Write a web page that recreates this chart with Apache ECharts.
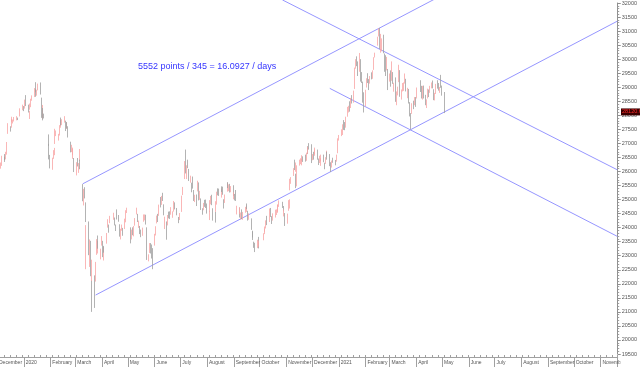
<!DOCTYPE html>
<html>
<head>
<meta charset="utf-8">
<script src="https://cdn.jsdelivr.net/npm/echarts@6/dist/echarts.min.js"></script>
<style>html,body{margin:0;padding:0;background:#fff;overflow:hidden;width:640px;height:367px;position:relative;}#c{position:absolute;left:-4px;top:0;width:644px;height:367px;}</style>
</head>
<body>
<div id="c"></div>
<script>
// ---- DATA: daily bars [date, open, close, low, high] ----
const bars2019 = [
['2019-12-02',26380,26440,26300,26500],['2019-12-03',26420,26390,26250,26470],['2019-12-04',26200,26060,25990,26260],
['2019-12-05',26180,26220,26100,26320],['2019-12-06',26280,26500,26200,26560],['2019-12-09',26520,26490,26410,26620],
['2019-12-10',26470,26440,26340,26520],['2019-12-11',26480,26650,26430,26700],['2019-12-12',26640,26990,26600,27050],
['2019-12-13',27360,27690,27340,27720],['2019-12-16',27550,27510,27420,27610],['2019-12-17',27570,27840,27560,27880],
['2019-12-18',27810,27880,27770,27950],['2019-12-19',27790,27800,27710,27850],['2019-12-20',27860,27870,27780,27940],
['2019-12-23',27890,27910,27820,27970],['2019-12-24',27890,27860,27830,27920],['2019-12-27',27980,28230,27960,28250],
['2019-12-30',28230,28320,28180,28380],['2019-12-31',28300,28190,28150,28330]
];
const bars2020 = [
['2020-01-02',28270,28540,28240,28560],['2020-01-03',28560,28450,28330,28720],['2020-01-06',28320,28230,28100,28380],
['2020-01-07',28250,28320,28200,28420],['2020-01-08',28000,28090,27870,28160],['2020-01-09',28310,28560,28290,28590],
['2020-01-10',28620,28640,28520,28710],['2020-01-13',28660,28950,28650,28970],['2020-01-14',28970,28890,28820,29180],
['2020-01-15',28840,28770,28660,28930],['2020-01-16',28810,28880,28700,28910],['2020-01-17',28950,29060,28890,29130],
['2020-01-20',29020,28800,28740,29170],['2020-01-21',28600,27990,27910,28630],['2020-01-22',27950,28340,27870,28370],
['2020-01-23',28180,27910,27820,28260],['2020-01-24',28000,27950,27890,28060],['2020-01-29',27200,27160,26910,27320],
['2020-01-30',26880,26450,26430,26980],['2020-01-31',26450,26310,26110,26590],
['2020-02-03',26220,26360,26060,26490],['2020-02-04',26550,26680,26450,26760],['2020-02-05',26690,26790,26580,26840],
['2020-02-06',27000,27490,26980,27520],['2020-02-07',27370,27400,27260,27460],['2020-02-10',27230,27240,27100,27340],
['2020-02-11',27290,27580,27280,27650],['2020-02-12',27620,27820,27560,27840],['2020-02-13',27840,27730,27640,27920],
['2020-02-14',27800,27820,27650,27860],['2020-02-17',27840,27960,27740,27970],['2020-02-18',27800,27530,27440,27810],
['2020-02-19',27600,27660,27520,27750],['2020-02-20',27730,27610,27530,27760],['2020-02-21',27560,27310,27210,27610],
['2020-02-24',27000,26820,26680,27060],['2020-02-25',26820,26890,26690,26950],['2020-02-26',26710,26780,26580,26850],
['2020-02-27',26520,26780,26450,26810],['2020-02-28',26420,26130,25980,26480],
['2020-03-02',25880,26290,25860,26330],['2020-03-03',26370,26280,26180,26480],['2020-03-04',26020,26220,25950,26300],
['2020-03-05',26400,26770,26380,26800],['2020-03-06',26370,26150,26080,26420],['2020-03-09',25540,25040,24940,25550],
['2020-03-10',24960,25230,24790,25380],['2020-03-11',25390,25230,25040,25440],['2020-03-12',24880,24310,24200,24900],
['2020-03-13',23200,24030,22520,24090],['2020-03-16',24200,23060,23020,24220],['2020-03-17',22830,23260,22600,23580],
['2020-03-18',23450,22290,22270,23530],['2020-03-19',21780,21710,21000,22120],['2020-03-20',22230,22810,22100,22860],
['2020-03-23',22190,21700,21140,22300],['2020-03-24',22260,22660,22080,22780],['2020-03-25',23190,23530,23030,23590],
['2020-03-26',23340,23350,23080,23530],['2020-03-27',23580,23480,23250,23720],['2020-03-30',23000,23180,22870,23250],
['2020-03-31',23370,23600,23360,23700],
['2020-04-01',23430,23090,22950,23530],['2020-04-02',22990,23280,22830,23310],['2020-04-03',23250,23240,23110,23350],
['2020-04-06',23460,23750,23430,23810],['2020-04-07',24040,24250,24000,24300],['2020-04-08',24020,23970,23820,24110],
['2020-04-09',24270,24300,24160,24420],['2020-04-14',24400,24440,24280,24530],['2020-04-15',24310,24150,24080,24360],
['2020-04-16',24020,24010,23880,24110],['2020-04-17',24510,24380,24290,24650],['2020-04-20',24380,24330,24210,24450],
['2020-04-21',24060,23790,23680,24120],['2020-04-22',23640,23890,23580,23960],['2020-04-23',23960,23980,23890,24110],
['2020-04-24',23950,23830,23710,23990],['2020-04-27',23970,24280,23950,24320],['2020-04-28',24300,24580,24190,24620],
['2020-04-29',24580,24640,24520,24710],
['2020-05-04',23870,23610,23440,24010],['2020-05-05',23670,23870,23580,23930],['2020-05-06',23880,23870,23730,24010],
['2020-05-07',23800,23980,23690,24060],['2020-05-08',24100,24230,24070,24340],['2020-05-11',24560,24600,24470,24710],
['2020-05-12',24420,24250,24200,24490],['2020-05-13',24040,24180,23990,24250],['2020-05-14',23970,23830,23770,24060],
['2020-05-15',23890,23800,23660,23930],['2020-05-18',23850,23930,23710,24000],['2020-05-19',24220,24390,24210,24470],
['2020-05-20',24300,24400,24260,24470],['2020-05-21',24330,24280,24110,24460],['2020-05-22',23940,22930,22850,24010],
['2020-05-25',22920,22950,22800,23050],['2020-05-26',23170,23380,23100,23450],['2020-05-27',23400,23300,23080,23450],
['2020-05-28',23310,23130,22900,23400],['2020-05-29',23180,22960,22520,23270],
['2020-06-01',23370,23730,23360,23780],['2020-06-02',23890,24000,23720,24050],['2020-06-03',24240,24330,24150,24430],
['2020-06-04',24400,24370,24200,24490],['2020-06-05',24430,24770,24420,24820],['2020-06-08',24940,24780,24720,25090],
['2020-06-09',24880,25060,24810,25130],['2020-06-10',25220,25050,24950,25240],['2020-06-11',24800,24480,24440,24830],
['2020-06-12',23990,24300,23950,24390],['2020-06-15',24150,23780,23570,24220],['2020-06-16',24170,24340,24080,24450],
['2020-06-17',24550,24480,24330,24570],['2020-06-18',24460,24460,24310,24580],['2020-06-19',24480,24640,24460,24730],
['2020-06-22',24480,24510,24350,24580],['2020-06-23',24630,24910,24570,24950],['2020-06-24',24850,24780,24650,24900],
['2020-06-26',24630,24550,24440,24700],['2020-06-29',24340,24300,24160,24380],['2020-06-30',24390,24430,24270,24520],
['2020-07-02',24580,25120,24560,25140],['2020-07-03',25260,25370,25160,25450],['2020-07-06',25740,26340,25730,26370],
['2020-07-07',26390,26000,25930,26780],['2020-07-08',25800,26130,25730,26220],['2020-07-09',26340,26210,26120,26420],
['2020-07-10',26050,25730,25660,26090],['2020-07-13',25750,25770,25600,25850],['2020-07-14',25490,25480,25260,25600],
['2020-07-15',25620,25480,25390,25820],['2020-07-16',25310,24970,24950,25340],['2020-07-17',25050,25090,24910,25170],
['2020-07-20',25080,25060,24770,25180],['2020-07-21',25300,25640,25290,25670],['2020-07-22',25560,25060,24970,25610],
['2020-07-23',25100,25260,24990,25310],['2020-07-24',25000,24710,24630,25040],['2020-07-27',24650,24600,24460,24690],
['2020-07-28',24730,24770,24620,24880],['2020-07-29',24900,24880,24740,24990],['2020-07-30',24960,24710,24700,25000],
['2020-07-31',24770,24600,24500,24860],
['2020-08-03',24380,24460,24270,24600],['2020-08-04',24570,24950,24560,24980],['2020-08-05',25010,25100,24830,25130],
['2020-08-06',25130,24930,24800,25170],['2020-08-07',24670,24530,24250,24690],['2020-08-10',24470,24380,24180,24560],
['2020-08-11',24590,24890,24560,24940],['2020-08-12',24860,25240,24820,25280],['2020-08-13',25350,25230,25150,25400],
['2020-08-14',25360,25180,25130,25390],['2020-08-17',25150,25350,25070,25390],['2020-08-18',25410,25370,25270,25470],
['2020-08-19',25410,25180,25170,25460],['2020-08-20',24980,24790,24680,25010],['2020-08-21',24950,25110,24880,25180],
['2020-08-24',25290,25550,25280,25600],['2020-08-25',25590,25490,25410,25620],['2020-08-26',25450,25490,25300,25540],
['2020-08-27',25540,25280,25250,25560],['2020-08-28',25400,25420,25260,25480],['2020-08-31',25450,25180,25130,25510],
['2020-09-01',25150,25180,25010,25260],['2020-09-02',25120,25120,24970,25200],['2020-09-03',25240,25010,24950,25340],
['2020-09-04',24580,24700,24470,24780],['2020-09-07',24690,24590,24360,24720],['2020-09-08',24570,24620,24480,24720],
['2020-09-09',24300,24470,24290,24540],['2020-09-10',24640,24310,24300,24650],['2020-09-11',24300,24500,24280,24560],
['2020-09-14',24620,24640,24530,24740],['2020-09-15',24630,24730,24560,24790],['2020-09-16',24800,24730,24660,24860],
['2020-09-17',24580,24340,24250,24600],['2020-09-18',24420,24460,24280,24510],['2020-09-21',24310,23950,23920,24330],
['2020-09-22',23750,23720,23560,23860],['2020-09-23',23820,23740,23650,23890],['2020-09-24',23460,23310,23280,23500],
['2020-09-25',23440,23240,23130,23460],['2020-09-28',23360,23480,23270,23570],['2020-09-29',23610,23280,23260,23670],
['2020-09-30',23380,23460,23320,23530],
['2020-10-05',23620,23770,23550,23800],['2020-10-06',23920,23980,23850,24040],['2020-10-07',23850,23880,23770,23960],
['2020-10-08',24070,24240,23970,24260],['2020-10-09',24290,24120,24090,24420],['2020-10-12',24240,24650,24200,24680],
['2020-10-14',24620,24440,24380,24700],['2020-10-15',24360,24160,24130,24410],['2020-10-16',24300,24390,24250,24510],
['2020-10-19',24520,24540,24360,24640],['2020-10-20',24490,24570,24450,24650],['2020-10-21',24650,24750,24570,24810],
['2020-10-22',24610,24790,24530,24830],['2020-10-23',24850,24920,24740,24970],['2020-10-27',24830,24790,24700,24920],
['2020-10-28',24750,24710,24580,24770],['2020-10-29',24460,24590,24400,24650],['2020-10-30',24480,24110,24060,24520],
['2020-11-02',24200,24460,24140,24500],['2020-11-03',24650,24940,24600,24980],['2020-11-04',24770,24890,24680,25010],
['2020-11-05',25350,25700,25330,25740],['2020-11-06',25650,25710,25560,25800],['2020-11-09',25890,26020,25840,26120],
['2020-11-10',26350,26300,26050,26420],['2020-11-11',26200,26230,25990,26320],['2020-11-12',25760,25520,25410,25920],
['2020-11-13',25500,26160,25470,26220],['2020-11-16',26300,26380,26210,26420],['2020-11-17',26420,26420,26260,26470],
['2020-11-18',26510,26540,26360,26580],['2020-11-19',26350,26360,26220,26450],['2020-11-20',26460,26450,26340,26540],
['2020-11-23',26550,26490,26350,26600],['2020-11-24',26560,26590,26380,26670],['2020-11-25',26850,26670,26620,26900],
['2020-11-26',26710,26820,26630,26880],['2020-11-27',26930,26890,26780,27010],['2020-11-30',26900,26340,26300,26970],
['2020-12-01',26520,26570,26400,26620],['2020-12-02',26640,26530,26420,26700],['2020-12-03',26640,26730,26560,26780],
['2020-12-04',26730,26840,26610,26850],['2020-12-07',26740,26510,26420,26780],['2020-12-08',26390,26300,26230,26460],
['2020-12-09',26380,26500,26300,26560],['2020-12-10',26330,26410,26200,26470],['2020-12-11',26500,26510,26360,26600],
['2020-12-14',26550,26390,26330,26600],['2020-12-15',26230,26210,26080,26310],['2020-12-16',26320,26460,26270,26510],
['2020-12-17',26570,26680,26510,26740],['2020-12-18',26640,26500,26420,26700],['2020-12-21',26560,26310,26190,26620],
['2020-12-22',26150,26120,25980,26330],['2020-12-23',26260,26340,26140,26390],['2020-12-24',26480,26390,26310,26490],
['2020-12-28',26370,26310,26220,26410],['2020-12-29',26380,26570,26350,26600],['2020-12-30',26660,27150,26650,27180],
['2020-12-31',27230,27230,27100,27300]
];
const bars2021 = [
['2021-01-04',27320,27470,27260,27500],['2021-01-05',27400,27650,27300,27680],['2021-01-06',27790,27690,27480,27830],
['2021-01-07',27740,27550,27470,27760],['2021-01-08',27700,27880,27560,27950],['2021-01-11',28000,28250,27950,28300],
['2021-01-12',28260,28280,28100,28340],['2021-01-13',28380,28240,28130,28500],['2021-01-14',28370,28500,28260,28620],
['2021-01-15',28600,28570,28420,28720],['2021-01-18',28510,28860,28450,28880],['2021-01-19',28950,29640,28940,29700],
['2021-01-20',29790,29960,29660,30000],['2021-01-21',30000,29930,29750,30100],['2021-01-22',29860,29450,29400,29920],
['2021-01-25',29600,30160,29550,30220],['2021-01-26',29980,29390,29200,30000],['2021-01-27',29450,29300,29150,29540],
['2021-01-28',29100,28550,28450,29200],['2021-01-29',28680,28280,28100,28820],
['2021-02-01',28450,28890,28320,28910],['2021-02-02',29070,29250,28990,29320],['2021-02-03',29380,29310,29150,29500],
['2021-02-04',29200,29110,28900,29290],['2021-02-05',29250,29290,29130,29400],['2021-02-08',29440,29320,29280,29530],
['2021-02-09',29450,29480,29300,29600],['2021-02-10',29640,30040,29620,30070],['2021-02-11',30170,30170,30060,30230],
['2021-02-15',30490,30750,30480,30800],['2021-02-16',30830,31080,30810,31100],['2021-02-17',30950,30600,30360,31110],
['2021-02-18',30330,30600,30230,30900],['2021-02-19',30520,30640,30280,30740],['2021-02-22',30700,30320,30210,30870],
['2021-02-23',30190,29700,29550,30200],['2021-02-24',29950,29720,29400,30140],['2021-02-25',29630,30070,29600,30080],
['2021-02-26',29640,28980,28900,29650],
['2021-03-01',29300,29450,29200,29490],['2021-03-02',29460,29100,29020,29600],['2021-03-03',29260,29880,29230,29920],
['2021-03-04',29450,29240,29120,29540],['2021-03-05',28950,29100,28840,29160],['2021-03-08',29200,28540,28480,29350],
['2021-03-09',28460,28770,28360,28850],['2021-03-10',28760,28910,28710,29020],['2021-03-11',29200,29720,29180,29800],
['2021-03-12',29590,28740,28660,29610],['2021-03-15',28710,28830,28560,28920],['2021-03-16',28990,29030,28850,29150],
['2021-03-17',29020,29030,28870,29170],['2021-03-18',29160,29410,29130,29490],['2021-03-19',29200,28990,28850,29300],
['2021-03-22',28700,28890,28610,28980],['2021-03-23',28910,28500,28420,28940],['2021-03-24',28430,28020,27960,28470],
['2021-03-25',27940,27900,27500,28080],['2021-03-26',28100,28340,28050,28430],['2021-03-29',28450,28340,28220,28520],
['2021-03-30',28520,28580,28360,28650],['2021-03-31',28580,28380,28300,28650],
['2021-04-01',28630,28940,28600,28990],['2021-04-06',29150,28940,28830,29250],['2021-04-07',28870,28670,28600,29050],
['2021-04-08',28600,29010,28560,29050],['2021-04-09',29000,28700,28600,29060],['2021-04-12',28680,28450,28360,28730],
['2021-04-13',28410,28500,28260,28570],['2021-04-14',28650,28900,28600,28950],['2021-04-15',28860,28790,28650,28920],
['2021-04-16',28880,28970,28800,29050],['2021-04-19',29020,29110,28960,29170],['2021-04-20',29150,29140,28960,29240],
['2021-04-21',28890,28620,28540,28930],['2021-04-22',28640,28760,28530,28800],['2021-04-23',28820,29080,28760,29120],
['2021-04-26',29180,29130,28950,29250],['2021-04-27',29050,28940,28880,29150],['2021-04-28',28900,28950,28800,29010],
['2021-04-29',29140,29070,28980,29440],['2021-04-30',28940,28720,28700,29060],
['2021-05-03',28800,28120.6,28080,28830]
];
// Axis range and ticks
const axisStart = '2019-12-01';
const axisEnd = '2021-11-20';
const yMin = 19500, yMax = 32000, yStep = 500;
const monthNames = ['January','February','March','April','May','June','July','August','September','October','November','December'];
// Trend lines: two anchor points each [date, price]; extended to the right end of the axis
const trendLines = [
  [['2020-03-09', 25560], ['2021-02-17', 31112]],
  [['2020-03-24', 21600], ['2021-03-26', 27506]],
  [['2020-10-27', 32110], ['2021-11-20', 26060]],
  [['2020-12-21', 28960], ['2021-11-20', 23690]]
];
const noteText = '5552 points / 345 = 16.0927 / days';

// ---- build ----
const SHIFT = 4; // the chart canvas is placed 4px left of the page edge
function fmt(d){return d.toISOString().slice(0,10);}
const cats = [];
for (let t = Date.parse(axisStart + 'T00:00:00Z'); t <= Date.parse(axisEnd + 'T00:00:00Z'); t += 86400000) cats.push(fmt(new Date(t)));
const catIndex = {}; cats.forEach((c,i)=>catIndex[c]=i);
const allBars = bars2019.concat(bars2020, bars2021);
const candleData = cats.map(()=>'-');
allBars.forEach(b => { candleData[catIndex[b[0]]] = [b[1], b[2], b[3], b[4]]; });
const lastClose = allBars[allBars.length-1][2];

const lineSeries = trendLines.map(tl => {
  const i0 = catIndex[tl[0][0]], i1 = catIndex[tl[1][0]];
  const slope = (tl[1][1] - tl[0][1]) / (i1 - i0);
  const iEnd = cats.length - 1;
  const vEnd = tl[0][1] + slope * (iEnd - i0);
  return {
    type: 'line', data: [[tl[0][0], tl[0][1]], [cats[iEnd], vEnd]],
    symbol: 'none', clip: false, silent: true, z: 3,
    lineStyle: { color: '#9696ff', width: 1 }
  };
});

const chart = echarts.init(document.getElementById('c'), null, {renderer: 'canvas'});
chart.setOption({
  animation: false,
  backgroundColor: '#ffffff',
  textStyle: { fontFamily: 'Liberation Sans, Arial, sans-serif' },
  title: {
    text: noteText, left: 138 + SHIFT, top: 62, padding: 0,
    textStyle: { fontSize: 9, fontWeight: 'normal', color: '#3535ff', fontFamily: 'Liberation Sans, Arial' }
  },
  grid: { left: 0, right: 20, top: 3, bottom: 13, containLabel: false },
  xAxis: [{
    type: 'category', data: cats, boundaryGap: true, position: 'bottom', offset: 3,
    axisLine: { show: true, lineStyle: { color: '#a0a0a0', width: 1 } },
    axisTick: { show: true, interval: (i, v) => v.slice(8) === '01', length: 10, lineStyle: { color: '#a0a0a0' } },
    axisLabel: {
      show: true, interval: (i, v) => v.slice(8) === '01', align: 'left', margin: 3, padding: [0,0,0,1.5],
      fontSize: 5, color: '#555',
      formatter: v => { const m = +v.slice(5,7); return m === 1 ? v.slice(0,4) : monthNames[m-1]; }
    },
    splitLine: { show: false }
  }, {
    type: 'category', data: cats, boundaryGap: true, position: 'bottom', offset: 3, gridIndex: 0,
    axisLine: { show: false },
    axisTick: { show: true, inside: true, length: 2, interval: (i, v) => new Date(v + 'T00:00:00Z').getUTCDay() === 1, lineStyle: { color: '#a0a0a0' } },
    axisLabel: { show: false }, splitLine: { show: false }
  }],
  yAxis: {
    type: 'value', position: 'right', min: yMin, max: yMax, interval: yStep,
    axisLine: { show: true, lineStyle: { color: '#909090' } },
    axisTick: { show: true, length: 3, lineStyle: { color: '#909090' } },
    minorTick: { show: true, splitNumber: 5, length: 1.5, lineStyle: { color: '#a0a0a0' } },
    axisLabel: { fontSize: 5.5, color: '#555', margin: 4, formatter: v => String(v) },
    splitLine: { show: false }
  },
  series: [{
    type: 'candlestick', data: candleData, barWidth: 0.8, large: false, z: 4,
    itemStyle: { color: '#f27a7a', color0: '#6e6e6e', borderColor: '#f9a5a5', borderColor0: '#a0a0a0', borderWidth: 0.8 }
  }].concat(lineSeries)
});

// last-price tag on the price axis, positioned through the axis scale
const tagY = chart.convertToPixel({ yAxisIndex: 0 }, lastClose);
chart.setOption({
  graphic: [
    { type: 'rect', shape: { x: 620.5 + SHIFT, y: 358, width: 20, height: 9 }, style: { fill: '#fff' }, z: 100 },
    { type: 'text', x: 621 + SHIFT, y: tagY, z: 101,
      style: { text: lastClose.toFixed(2), fill: '#ff2a2a', backgroundColor: '#3a0000', font: '5.5px "Liberation Sans"',
               verticalAlign: 'middle', padding: [1, 1, 0, 1] } }
  ]
});
</script>
</body>
</html>
